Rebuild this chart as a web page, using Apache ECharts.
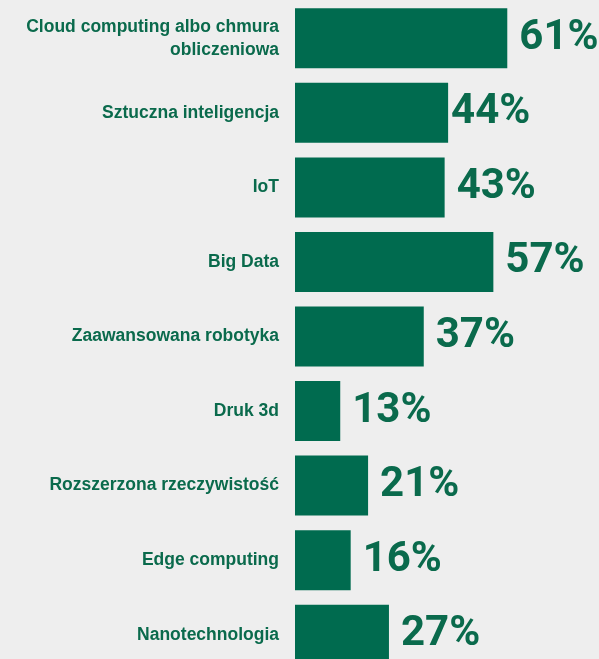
<!DOCTYPE html>
<html lang="pl" style="height: 100%">
<head>
  <meta charset="utf-8">
</head>
<body style="height: 100%; margin: 0; background: #eeeeee">
  <div id="container" style="height: 100%"></div>

  <script type="text/javascript" src="https://cdn.jsdelivr.net/npm/echarts@6/dist/echarts.min.js"></script>
  <script type="text/javascript">
    // dane
    var categories = [
      'Cloud computing albo chmura\nobliczeniowa',
      'Sztuczna inteligencja',
      'IoT',
      'Big Data',
      'Zaawansowana robotyka',
      'Druk 3d',
      'Rozszerzona rzeczywistość',
      'Edge computing',
      'Nanotechnologia'
    ];
    var values = [61, 44, 43, 57, 37, 13, 21, 16, 27];

    var green = '#006b4f';
    var textGreen = '#0a6a4c';

    var dom = document.getElementById('container');
    var myChart = echarts.init(dom, null, { renderer: 'canvas' });

    var option = {
      backgroundColor: '#eeeeee',
      animation: false,
      grid: {
        left: 295,
        top: 1,
        width: 348,
        height: 671,
        outerBoundsMode: 'none',
        containLabel: false
      },
      xAxis: {
        type: 'value',
        min: 0,
        max: 100,
        show: false
      },
      yAxis: {
        type: 'category',
        data: categories,
        inverse: true,
        axisLine: { show: false },
        axisTick: { show: false },
        axisLabel: {
          margin: 16,
          color: textGreen,
          fontFamily: 'Liberation Sans',
          fontWeight: 'bold',
          fontSize: 17.5,
          lineHeight: 23,
          align: 'right'
        }
      },
      series: [
        {
          type: 'bar',
          data: values.map(function (v) {
            // etykieta 44% leży bliżej słupka
            if (v === 44) return { value: v, label: { distance: 3 } };
            return v;
          }),
          barWidth: 60,
          itemStyle: { color: green },
          label: {
            show: true,
            position: 'right',
            distance: 12,
            formatter: '{c}%',
            color: textGreen,
            fontFamily: 'Roboto',
            fontWeight: 'bold',
            fontSize: 42
          }
        }
      ]
    };

    myChart.setOption(option);
    window.addEventListener('resize', myChart.resize);
  </script>
</body>
</html>
